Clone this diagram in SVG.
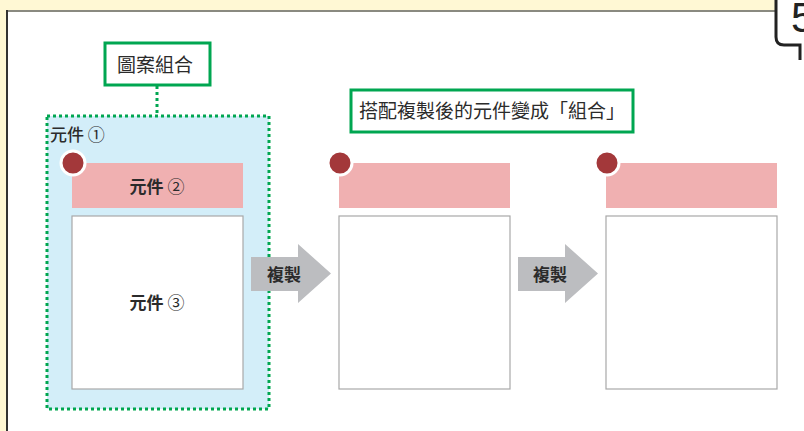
<svg xmlns="http://www.w3.org/2000/svg" width="804" height="431" viewBox="0 0 804 431">
<style>
.t{font-family:"Noto Sans CJK TC","Liberation Sans",sans-serif;fill:#2b2b2b}
.lbl{font-size:19px}
.b{font-size:17px;font-weight:bold}
.pink{fill:#f0b0b1}
.wr{fill:#fff;stroke:#a8a8a8;stroke-width:1.2}
.dot{fill:#a3383a;stroke:#fff;stroke-width:3}
.gbox{fill:#fff;stroke:#00a651;stroke-width:3}
.arrow{fill:#bcbdc0}
</style>
<rect x="0" y="0" width="804" height="431" fill="#fff8d4"/>
<g id="panel">
<rect x="7" y="11" width="810" height="430" fill="#fff"/>
<line x1="7" y1="11" x2="776" y2="11" stroke="#8a8a80" stroke-width="2"/>
<line x1="7" y1="10" x2="7" y2="431" stroke="#333" stroke-width="2"/>
</g>
<g id="badge">
<path d="M776,-10 V37 Q776,45 784,45 H804 V-10 Z" fill="#fff"/>
<path d="M776,-10 V37 Q776,45 784,45 H800 V60" fill="none" stroke="#222" stroke-width="3"/>
<text x="791" y="32" style="font-family:'Liberation Sans',sans-serif;font-size:42px;fill:#222">5</text>
</g>
<g id="connectors">
<line x1="157" y1="86" x2="157" y2="114" stroke="#00a651" stroke-width="3" stroke-dasharray="3,3"/>
</g>
<g id="group1">
<rect x="47" y="116" width="222" height="293" fill="#d3eef9" stroke="#00a651" stroke-width="3" stroke-dasharray="3,3"/>
<text x="50" y="141" class="t" style="font-size:17px;font-weight:500">元件 <tspan font-weight="normal">①</tspan></text>
<rect x="72" y="163" width="171" height="45" class="pink"/>
<circle cx="73" cy="163" r="12" class="dot"/>
<text x="157" y="193" class="t b" text-anchor="middle">元件 <tspan font-weight="normal">②</tspan></text>
<rect x="72" y="216" width="171" height="173" class="wr"/>
<text x="157" y="309" class="t b" text-anchor="middle">元件 <tspan font-weight="normal">③</tspan></text>
</g>
<g id="label1">
<rect x="105" y="43" width="105" height="42" class="gbox"/>
<text x="155" y="72" class="t lbl" text-anchor="middle">圖案組合</text>
</g>
<g id="label2">
<rect x="351" y="90" width="282" height="42" class="gbox"/>
<text x="492" y="118" class="t lbl" text-anchor="middle">搭配複製後的元件變成「組合」</text>
</g>
<g id="copy2">
<rect x="339" y="163" width="171" height="45" class="pink"/>
<circle cx="340" cy="163" r="12" class="dot"/>
<rect x="339" y="216" width="171" height="173" class="wr"/>
</g>
<g id="copy3">
<rect x="606" y="163" width="171" height="45" class="pink"/>
<circle cx="607" cy="163" r="12" class="dot"/>
<rect x="606" y="216" width="171" height="173" class="wr"/>
</g>
<g id="arrow1">
<polygon points="251,257 298,257 298,244 331,273.5 298,303 298,291 251,291" class="arrow"/>
<text x="284" y="281" class="t b" text-anchor="middle">複製</text>
</g>
<g id="arrow2">
<polygon points="518,257 565,257 565,244 598,273.5 565,303 565,291 518,291" class="arrow"/>
<text x="550" y="281" class="t b" text-anchor="middle">複製</text>
</g>
</svg>
